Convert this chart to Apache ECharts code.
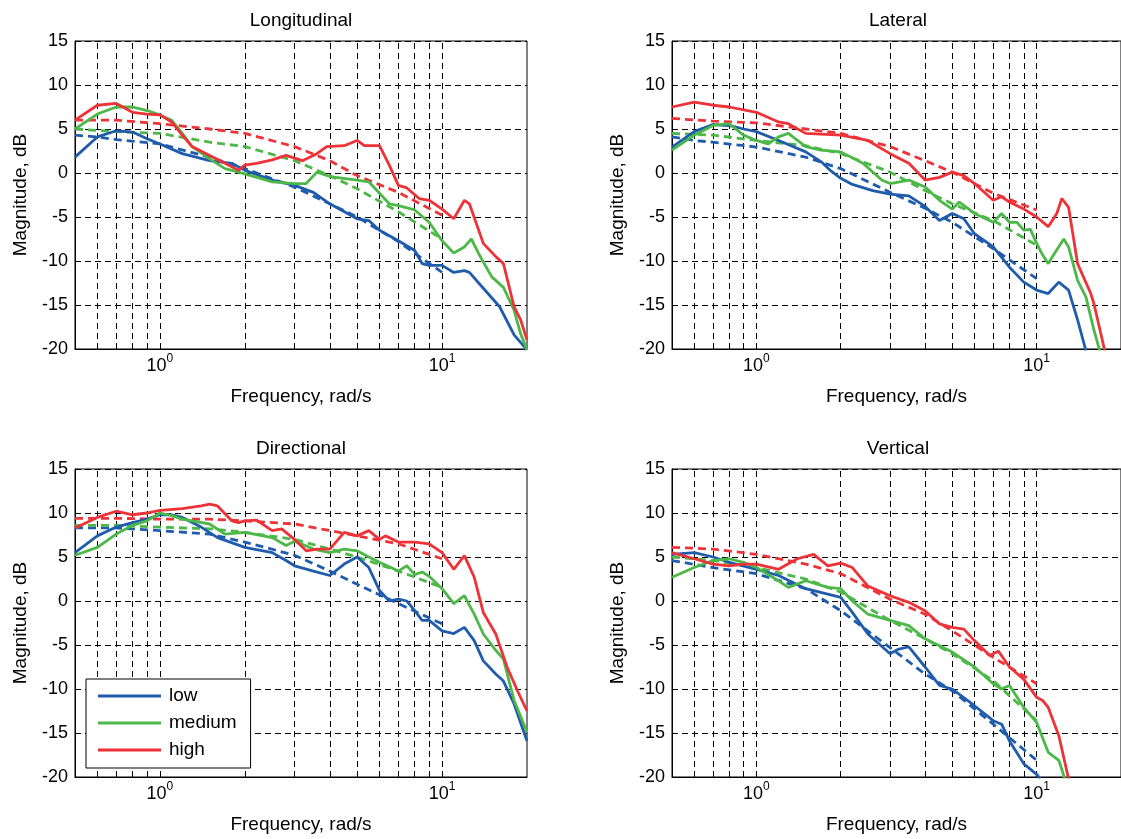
<!DOCTYPE html>
<html><head><meta charset="utf-8">
<script src="https://cdn.jsdelivr.net/npm/echarts@6/dist/echarts.min.js"></script>
<style>html,body{margin:0;padding:0;background:#fff}#c{width:1121px;height:839px}</style>
</head><body><div id="c"></div><script>
// ---- data ----
const panelTitles = ['Longitudinal', 'Lateral', 'Directional', 'Vertical'];
const levelNames = ['low', 'medium', 'high'];
const levelColors = ['#1f5cac', '#4cb848', '#ee3338'];
const gridFreqs = [0.6, 0.7, 0.8, 0.9, 1, 2, 3, 4, 5, 6, 7, 8, 9, 10];
const xMin = 0.5, xMax = 20;
const yMin = -20, yMax = 15, yStep = 5;

// [frequency rad/s, magnitude dB]
const longLow = [[0.5,1.8],[0.6,4.1],[0.7,4.8],[0.8,4.65],[0.9,3.9],[1,3.3],[1.2,2.2],[1.5,1.4],[1.8,1.1],[2,0.3],[2.5,-0.8],[3,-1.4],[3.5,-2.2],[4,-3.5],[5,-5.2],[5.5,-5.4],[6,-6.5],[7,-7.7],[8,-8.8],[8.5,-10.3],[9,-10.5],[10,-10.5],[11,-11.3],[12,-11.1],[12.5,-11.3],[14,-13.1],[16,-15.2],[18,-18.4],[20,-20.1]];
const longLowFit = [[0.5,4.3],[0.6,4.1],[0.7,3.8],[1,3.3],[1.5,1.8],[2,0.5],[3,-1.6],[4,-3.5],[5,-5],[7,-7.8],[10,-11.3]];
const longMed = [[0.5,5.0],[0.6,6.7],[0.7,7.5],[0.8,7.5],[0.9,7.1],[1,6.6],[1.1,6.0],[1.2,4.5],[1.3,3.0],[1.5,1.6],[1.7,0.5],[1.8,0.3],[2,-0.1],[2.5,-1.0],[3,-1.2],[3.3,-1.2],[3.6,0.1],[4,-0.4],[5,-0.8],[5.5,-1.0],[6,-2.3],[6.5,-3.5],[7,-3.7],[8,-4.2],[9,-5.6],[10,-7.7],[11,-9.1],[12,-8.4],[12.7,-7.5],[13.5,-9.2],[15,-11.8],[16.5,-13.0],[18,-15.6],[19,-18.3],[20,-20.1]];
const longMedFit = [[0.5,5.0],[0.7,4.7],[1,4.5],[1.5,3.5],[2,3.0],[3,1.4],[4,-0.3],[5,-1.8],[7,-4.4],[10,-7.5]];
const longHigh = [[0.5,6.0],[0.6,7.7],[0.7,7.9],[0.8,6.9],[0.9,6.7],[1,6.6],[1.1,5.8],[1.2,4.3],[1.3,3.0],[1.5,2.0],[1.7,1.1],[1.9,0.3],[2,0.9],[2.2,1.1],[2.5,1.5],[2.8,2.0],[3.2,1.4],[3.6,2.2],[3.9,3.0],[4.5,3.1],[5,3.7],[5.3,3.1],[6,3.1],[6.5,0.9],[7,-1.4],[7.5,-1.7],[8.3,-2.9],[9,-3.1],[10,-4.1],[11,-5.2],[12,-3.1],[12.5,-3.5],[14,-8.0],[15.5,-9.5],[16.5,-10.3],[18,-15.2],[19,-16.7],[20,-19.0]];
const longHighFit = [[0.5,6.0],[0.7,6.0],[1,5.6],[1.5,5.0],[2,4.5],[3,3.0],[4,1.4],[5,-0.3],[7,-2.2],[10,-4.8]];

const latLow = [[0.5,2.95],[0.6,4.7],[0.7,5.5],[0.8,5.4],[0.9,5.0],[1,4.7],[1.2,3.7],[1.5,2.4],[1.7,1.3],[1.85,0.2],[2,-0.6],[2.2,-1.3],[2.6,-2.0],[3,-2.4],[3.5,-2.6],[4,-3.8],[4.5,-5.4],[5,-4.6],[5.5,-5.2],[6,-6.9],[7,-8.4],[8,-10.7],[9,-12.4],[10,-13.3],[11,-13.7],[12,-12.4],[13,-13.3],[14,-16.7],[15,-20.2]];
const latLowFit = [[0.5,4.1],[0.6,3.7],[0.7,3.5],[1,2.95],[1.5,1.8],[2,0.5],[3,-2.2],[4,-4.0],[5,-5.6],[7,-8.6],[10,-12.0]];
const latMed = [[0.5,2.6],[0.6,4.3],[0.7,5.4],[0.8,5.6],[0.9,4.3],[1,3.7],[1.1,3.3],[1.2,4.1],[1.3,4.5],[1.5,3.0],[1.7,2.6],[2,2.4],[2.4,1.1],[2.8,-0.8],[3,-1.2],[3.5,-0.8],[4,-1.6],[4.5,-3.1],[5,-4.1],[5.3,-3.3],[6,-4.6],[7,-5.6],[7.5,-4.6],[8,-5.6],[8.5,-5.6],[9,-6.5],[9.5,-6.4],[10,-8.0],[10.5,-9.3],[11,-10.3],[11.5,-9.3],[12.5,-7.5],[13,-8.4],[14,-12.2],[15,-14.1],[16,-17.8],[16.8,-20.2]];
const latMedFit = [[0.5,4.5],[0.7,4.3],[1,3.7],[1.5,3.1],[2,2.2],[3,0.1],[4,-2.0],[5,-3.5],[7,-5.4],[10,-8.2]];
const latHigh = [[0.5,7.5],[0.6,8.05],[0.7,7.7],[0.8,7.5],[1,6.9],[1.2,5.8],[1.3,5.6],[1.5,4.5],[2,4.3],[2.5,3.7],[3,2.2],[3.5,1.1],[4,-0.8],[4.5,-0.5],[5,0.1],[5.5,-0.3],[6,-1.2],[7,-3.1],[7.5,-2.7],[8,-3.3],[9,-4.1],[10,-5.0],[11,-6.1],[11.8,-4.6],[12.3,-2.9],[13,-3.9],[14,-10.3],[15.6,-13.7],[16,-14.8],[17.5,-20.2]];
const latHighFit = [[0.5,6.2],[0.7,5.9],[1,5.7],[1.5,5.0],[2,4.5],[3,3.0],[4,1.4],[5,0.1],[7,-2.3],[10,-4.2]];

const dirLow = [[0.5,5.5],[0.6,7.4],[0.7,8.4],[0.8,8.9],[0.9,9.3],[1,9.8],[1.1,9.8],[1.2,9.5],[1.4,8.4],[1.6,7.2],[2,6.1],[2.5,5.5],[2.8,4.6],[3,4.0],[3.5,3.4],[4,2.9],[4.5,4.2],[5,5.0],[5.5,3.8],[6,1.2],[6.5,0.0],[7,0.2],[7.5,0.0],[8,-1.1],[8.5,-2.2],[9,-2.2],[10,-3.4],[11,-3.7],[12,-3.0],[13,-4.5],[14,-6.8],[15.5,-8.3],[16.5,-9.1],[18,-11.7],[20,-15.9]];
const dirLowFit = [[0.5,8.3],[0.7,8.3],[1,8.0],[1.5,7.6],[2,6.7],[3,5.2],[4,3.4],[5,1.9],[7,-0.3],[10,-2.6]];
const dirMed = [[0.5,5.2],[0.6,6.1],[0.7,7.6],[0.8,8.6],[0.9,9.1],[1,10.0],[1.1,9.7],[1.2,9.3],[1.5,8.75],[1.7,7.6],[2,7.8],[2.5,7.2],[2.8,6.3],[3,6.8],[3.5,5.9],[4,5.5],[4.5,5.9],[5,5.7],[5.5,5.0],[6,4.4],[7,3.4],[7.5,4.0],[8,3.0],[8.5,3.3],[9,2.8],[10,1.4],[11,-0.3],[12,0.6],[13,-1.5],[14,-3.75],[15.5,-5.6],[16.5,-6.6],[18,-11.3],[20,-14.9]];
const dirMedFit = [[0.5,8.6],[0.7,8.6],[1,8.4],[1.5,8.2],[2,7.8],[3,7.0],[4,5.9],[5,5.0],[7,3.4],[10,1.55]];
const dirHigh = [[0.5,8.3],[0.6,9.5],[0.7,10.2],[0.8,9.8],[0.9,10.0],[1,10.3],[1.2,10.5],[1.4,10.8],[1.5,11.0],[1.6,10.8],[1.8,9.1],[1.9,8.9],[2,9.1],[2.2,9.2],[2.5,8.0],[2.7,8.2],[3,7.0],[3.3,5.7],[3.6,5.9],[4,5.9],[4.5,7.8],[5,7.4],[5.5,8.0],[6,7.0],[6.3,7.4],[7,6.7],[8,6.7],[9,6.5],[10,5.5],[11,3.6],[12,5.15],[13,2.7],[14,-1.3],[15.5,-3.75],[17,-7.5],[18.5,-10.2],[20,-12.5]];
const dirHighFit = [[0.5,9.4],[0.7,9.4],[1,9.3],[1.5,9.3],[2,9.1],[3,8.75],[4,8.0],[5,7.4],[7,6.5],[10,4.8]];

const vertLow = [[0.5,5.3],[0.6,5.5],[0.7,5.0],[0.8,4.4],[1,3.6],[1.2,2.9],[1.5,1.4],[2,0.4],[2.2,-1.3],[2.5,-3.75],[3,-6.0],[3.2,-5.5],[3.5,-5.2],[4,-7.5],[4.5,-9.6],[5,-10.0],[6,-11.9],[7,-13.6],[7.5,-14.0],[8,-15.9],[9,-18.5],[10,-19.7],[10.3,-20.2]];
const vertLowFit = [[0.5,4.6],[0.7,3.8],[1,3.1],[1.5,1.4],[2,-1.1],[3,-5.3],[4,-8.3],[5,-10.2],[7,-14.0],[10,-18.1]];
const vertMed = [[0.5,2.7],[0.6,3.8],[0.7,4.6],[0.8,4.8],[0.9,4.4],[1,3.8],[1.2,2.3],[1.3,1.55],[1.5,2.3],[1.8,1.55],[2,1.4],[2.2,0.0],[2.5,-1.5],[3,-2.2],[3.5,-2.8],[4,-4.3],[5,-5.8],[6,-7.5],[7,-9.4],[7.5,-10.0],[8,-9.6],[9,-12.1],[10,-13.8],[11,-17.2],[12,-18.1],[12.6,-20.2]];
const vertMedFit = [[0.5,5.0],[0.7,4.6],[1,3.8],[1.5,2.5],[2,1.0],[3,-2.2],[4,-4.3],[5,-6.0],[7,-9.05],[10,-13.6]];
const vertHigh = [[0.5,5.5],[0.6,4.8],[0.7,4.2],[0.8,4.0],[0.9,4.2],[1,4.2],[1.2,3.6],[1.4,4.8],[1.6,5.3],[1.8,4.0],[2,4.3],[2.2,3.8],[2.5,1.7],[3,0.6],[3.5,-0.15],[4,-1.1],[4.5,-2.6],[5,-3.0],[5.5,-3.2],[6,-4.5],[6.8,-6.2],[7.3,-5.7],[8,-7.5],[9,-8.9],[10,-10.95],[10.5,-11.3],[11,-12.1],[12,-15.3],[13,-20.2]];
const vertHighFit = [[0.5,6.1],[0.7,5.9],[1,5.3],[1.5,4.2],[2,3.1],[3,0.2],[4,-1.5],[5,-3.4],[7,-6.4],[10,-9.4]];

const panelCurves = [
  [longLow, longMed, longHigh], [latLow, latMed, latHigh],
  [dirLow, dirMed, dirHigh], [vertLow, vertMed, vertHigh]
];
const panelFits = [
  [longLowFit, longMedFit, longHighFit], [latLowFit, latMedFit, latHighFit],
  [dirLowFit, dirMedFit, dirHighFit], [vertLowFit, vertMedFit, vertHighFit]
];

// ---- layout ----
const FONT = "'Liberation Sans', Arial, Helvetica, sans-serif";
const gridBoxes = [
  {left: 75, top: 41, width: 452, height: 308},
  {left: 672, top: 41, width: 452, height: 308},
  {left: 75, top: 469, width: 452, height: 308},
  {left: 672, top: 469, width: 452, height: 308}
];

const grids = [], xAxes = [], yAxes = [], titles = [], series = [];
gridBoxes.forEach((g, i) => {
  grids.push(Object.assign({show: true, borderColor: '#000', borderWidth: 1, backgroundColor: '#fff'}, g));
  titles.push({
    text: panelTitles[i], left: g.left + g.width / 2 - 5, top: g.top - 35, textAlign: 'center',
    textStyle: {fontSize: 19, fontWeight: 'normal', color: '#000', fontFamily: FONT}
  });
  xAxes.push({
    type: 'log', logBase: 10, min: xMin, max: xMax, gridIndex: i,
    name: 'Frequency, rad/s', nameLocation: 'middle', nameGap: 38,
    nameTextStyle: {fontSize: 19, color: '#000', fontFamily: FONT},
    axisLine: {show: true, onZero: false, lineStyle: {color: '#000', width: 1}},
    axisTick: {show: false}, splitLine: {show: false}, minorSplitLine: {show: false},
    axisLabel: {
      show: true, margin: 4, color: '#000', fontFamily: FONT, showMinLabel: false, showMaxLabel: false,
      formatter: v => {
        const e = Math.log10(v);
        if (Math.abs(e - Math.round(e)) < 1e-6) return '{b|10}{s|' + Math.round(e) + '}';
        return '';
      },
      rich: {
        b: {fontSize: 18, lineHeight: 22, verticalAlign: 'bottom', color: '#000', fontFamily: FONT},
        s: {fontSize: 12, lineHeight: 22, verticalAlign: 'top', color: '#000', fontFamily: FONT}
      }
    }
  });
  yAxes.push({
    type: 'value', min: yMin, max: yMax, interval: yStep, gridIndex: i,
    name: 'Magnitude, dB', nameLocation: 'middle', nameGap: 45,
    nameTextStyle: {fontSize: 19, color: '#000', fontFamily: FONT},
    axisLine: {show: true, onZero: false, lineStyle: {color: '#000', width: 1}},
    axisTick: {show: false},
    axisLabel: {fontSize: 18, color: '#000', margin: 7, fontFamily: FONT},
    splitLine: {show: true, lineStyle: {color: '#000', width: 1, type: [6, 4]}}
  });
  // vertical grid lines at decade subdivisions
  series.push({
    name: 'grid' + i, type: 'line', xAxisIndex: i, yAxisIndex: i, data: [], silent: true, z: 1,
    markLine: {
      silent: true, z: 1, symbol: ['none', 'none'], animation: false,
      label: {show: false}, emphasis: {disabled: true},
      lineStyle: {color: '#000', width: 1, type: [6, 4]},
      data: gridFreqs.map(f => ({xAxis: f}))
    }
  });
  for (let k = 0; k < 3; k++) {
    series.push({
      name: levelNames[k] + ' model', type: 'line', xAxisIndex: i, yAxisIndex: i,
      data: panelFits[i][k], showSymbol: false, symbol: 'none', z: 3, silent: true,
      lineStyle: {color: levelColors[k], width: 2.8, type: [8, 5]}, itemStyle: {color: levelColors[k]}
    });
  }
  for (let k = 0; k < 3; k++) {
    series.push({
      name: levelNames[k], type: 'line', xAxisIndex: i, yAxisIndex: i,
      data: panelCurves[i][k], showSymbol: false, symbol: 'none', z: 4, silent: true,
      lineStyle: {color: levelColors[k], width: 2.8}, itemStyle: {color: levelColors[k]}
    });
  }
});

const chart = echarts.init(document.getElementById('c'), null, {renderer: 'canvas'});
chart.setOption({
  backgroundColor: '#fff',
  animation: false,
  title: titles,
  grid: grids,
  xAxis: xAxes,
  yAxis: yAxes,
  legend: {
    data: levelNames, orient: 'vertical', left: 86, top: 679,
    icon: 'rect', itemWidth: 63, itemHeight: 3, itemGap: 7,
    padding: [7, 14, 8, 12], borderColor: '#000', borderWidth: 1, borderRadius: 0,
    backgroundColor: '#fff', selectedMode: false, z: 10,
    textStyle: {fontSize: 19, color: '#000', fontFamily: FONT, lineHeight: 20, padding: [0, 0, 0, 3]}
  },
  series: series
});
</script></body></html>
